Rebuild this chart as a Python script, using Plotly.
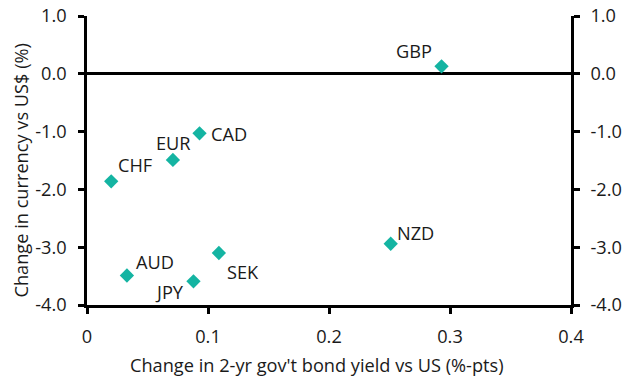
import plotly.graph_objects as go

currencies = ["GBP", "CAD", "EUR", "CHF", "AUD", "JPY", "SEK", "NZD"]
yield_change = [0.293, 0.093, 0.071, 0.020, 0.033, 0.088, 0.109, 0.251]
fx_change = [0.13, -1.03, -1.49, -1.86, -3.49, -3.59, -3.10, -2.94]

x_ticks = [0, 0.1, 0.2, 0.3, 0.4]
x_ticklabels = ["0", "0.1", "0.2", "0.3", "0.4"]
y_ticks = [1, 0, -1, -2, -3, -4]
y_ticklabels = ["1.0", "0.0", "-1.0", "-2.0", "-3.0", "-4.0"]

x_title = "Change in 2-yr gov't bond yield vs US (%-pts)"
y_title = "Change in currency vs US$ (%)"

# label offsets in pixels (style only)
label_offsets = {
    "GBP": (-28, 15), "CAD": (29, -1), "EUR": (1, 17), "CHF": (24, 16),
    "AUD": (28, 14), "JPY": (-24, -11), "SEK": (24, -19), "NZD": (25, 11),
}

teal = "#14b4a2"
font_family = "Open Sans, Noto Sans, sans-serif"
fs = 18.2

fig = go.Figure()
fig.add_trace(go.Scatter(
    x=yield_change, y=fx_change, mode="markers",
    marker=dict(symbol="diamond", size=11, color=teal, line=dict(width=0)),
    showlegend=False, hoverinfo="skip",
))
fig.add_trace(go.Scatter(
    x=yield_change, y=fx_change, mode="markers", yaxis="y2",
    marker=dict(opacity=0), showlegend=False, hoverinfo="skip",
))

for c, xv, yv in zip(currencies, yield_change, fx_change):
    dx, dy = label_offsets[c]
    fig.add_annotation(x=xv, y=yv, text=c, showarrow=False,
                       xshift=dx, yshift=dy,
                       font=dict(size=fs, color="#1a1a1a", family=font_family))

# axis titles (placed as annotations to match the reference's offsets)
fig.add_annotation(text=x_title, xref="paper", yref="paper", x=0.5, y=0,
                   xanchor="center", yanchor="middle", xshift=-12, yshift=-60,
                   showarrow=False,
                   font=dict(size=fs, color="#1a1a1a", family=font_family))
fig.add_annotation(text=y_title, xref="paper", yref="paper", x=0, y=0.5,
                   xanchor="center", yanchor="middle", xshift=-67, yshift=-10,
                   textangle=-90, showarrow=False,
                   font=dict(size=fs, color="#1a1a1a", family=font_family))

axis_common = dict(
    showline=True, linecolor="black", linewidth=2.5,
    ticks="outside", ticklen=6, tickwidth=2.5, tickcolor="black",
    showgrid=False, ticklabeloverflow="allow", automargin=False,
    tickfont=dict(size=fs, color="#1a1a1a", family=font_family),
)

fig.update_layout(
    width=633, height=382,
    margin=dict(l=87, r=62, t=16, b=77),
    paper_bgcolor="white", plot_bgcolor="white",
    font=dict(family=font_family, size=fs, color="#1a1a1a"),
    xaxis=dict(range=[0, 0.4], tickvals=x_ticks, ticktext=x_ticklabels,
               zeroline=False, ticklabelstandoff=7, **axis_common),
    yaxis=dict(range=[-4, 1], tickvals=y_ticks, ticktext=y_ticklabels,
               zeroline=True, zerolinecolor="black", zerolinewidth=2.5,
               ticklabelstandoff=8, **axis_common),
    yaxis2=dict(range=[-4, 1], tickvals=y_ticks, ticktext=y_ticklabels,
                overlaying="y", side="right", zeroline=False,
                ticklabelstandoff=7, **axis_common),
)

fig.write_html("out.html", config={"displayModeBar": False},
               post_script="document.body.style.margin='0';")
